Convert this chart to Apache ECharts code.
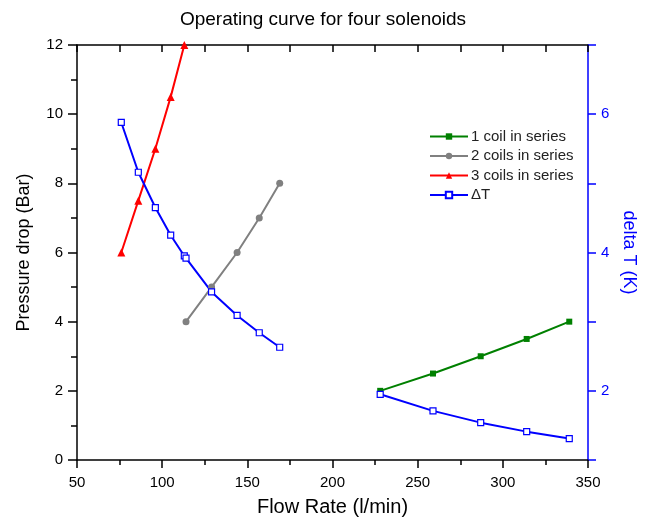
<!DOCTYPE html>
<html>
<head>
<meta charset="utf-8">
<script src="https://cdn.jsdelivr.net/npm/echarts@6/dist/echarts.min.js"></script>
<style>html,body{margin:0;padding:0;background:#fff;}#c{width:646px;height:521px;}</style>
</head>
<body>
<div id="c"></div>
<script>
// Data
const oneCoilFlow = [228, 259, 287, 314, 339];
const oneCoilDp   = [2.0, 2.5, 3.0, 3.5, 4.0];
const twoCoilFlow = [114, 129, 144, 157, 169];
const twoCoilDp   = [4.0, 5.0, 6.0, 7.0, 8.0];
const threeCoilFlow = [76, 86, 96, 105, 113];
const threeCoilDp   = [6.0, 7.5, 9.0, 10.5, 12.0];
const dtFlowA = [76, 86, 96, 105, 113, 114, 129, 144, 157, 169];
const dtA     = [5.88, 5.16, 4.65, 4.25, 3.95, 3.92, 3.43, 3.09, 2.84, 2.63];
const dtFlowB = [228, 259, 287, 314, 339];
const dtB     = [1.95, 1.71, 1.54, 1.41, 1.31];
const leftTicks = [0, 2, 4, 6, 8, 10, 12];
const rightTicks = [2, 4, 6];

const pairs = (xs, ys) => xs.map((x, i) => [x, ys[i]]);
const FONT = 'Liberation Sans, Arial, sans-serif';
const chart = echarts.init(document.getElementById('c'));
const blue = '#0000ff';

chart.setOption({
  animation: false,
  textStyle: { fontFamily: FONT },
  title: {
    text: 'Operating curve for four solenoids',
    left: 'center', top: 5,
    textStyle: { fontFamily: FONT, fontSize: 19, fontWeight: 'normal', color: '#000' }
  },
  legend: {
    left: 424, top: 124, orient: 'vertical',
    itemWidth: 38, itemHeight: 8, itemGap: 4.5,
    textStyle: { fontFamily: FONT, fontSize: 15, color: '#222', padding: [0, 0, 0, -2] },
    data: ['1 coil in series', '2 coils in series', '3 coils in series', 'ΔT']
  },
  grid: { left: 77, right: 58, top: 45, bottom: 61, containLabel: false, outerBoundsMode: 'none' },
  xAxis: [{
    type: 'value', min: 50, max: 350, interval: 50,
    name: 'Flow Rate (l/min)', nameLocation: 'middle', nameGap: 37,
    nameTextStyle: { fontFamily: FONT, fontSize: 20, color: '#000' },
    axisLine: { show: true, lineStyle: { color: '#000', width: 1.5 } },
    axisTick: { show: true, inside: false, length: 8, lineStyle: { color: '#000', width: 1.5 } },
    minorTick: { show: true, splitNumber: 2, length: 5, lineStyle: { color: '#000', width: 1.5 } },
    axisLabel: { fontFamily: FONT, fontSize: 15, color: '#000', margin: 15 },
    splitLine: { show: false }
  }, {
    type: 'value', min: 50, max: 350, interval: 50, position: 'top',
    axisLine: { show: true, lineStyle: { color: '#000', width: 1.5 } },
    axisTick: { show: true, inside: true, length: 7, lineStyle: { color: '#000', width: 1.5 } },
    minorTick: { show: true, splitNumber: 2, length: 7, lineStyle: { color: '#000', width: 1.5 } },
    axisLabel: { show: false },
    splitLine: { show: false }
  }],
  yAxis: [{
    type: 'value', min: 0, max: 12, interval: 2,
    name: 'Pressure drop (Bar)', nameLocation: 'middle', nameGap: 44,
    nameTextStyle: { fontFamily: FONT, fontSize: 18, color: '#000' },
    axisLine: { show: true, lineStyle: { color: '#000', width: 1.5 } },
    axisTick: { show: true, inside: false, length: 9, lineStyle: { color: '#000', width: 1.5 } },
    minorTick: { show: true, splitNumber: 2, length: 6, lineStyle: { color: '#000', width: 1.5 } },
    axisLabel: { fontFamily: FONT, fontSize: 15, color: '#000', margin: 14,
      formatter: v => leftTicks.includes(v) ? String(v) : '' },
    splitLine: { show: false }
  }, {
    type: 'value', min: 1, max: 7, interval: 1, position: 'right',
    name: 'delta T (K)', nameLocation: 'middle', nameGap: 32, nameRotate: -90,
    nameTextStyle: { fontFamily: FONT, fontSize: 18, color: blue },
    axisLine: { show: true, lineStyle: { color: blue, width: 1.5 } },
    axisTick: { show: true, inside: false, length: 8, lineStyle: { color: blue, width: 1.5 } },
    axisLabel: { fontFamily: FONT, fontSize: 15, color: blue, margin: 13,
      formatter: v => rightTicks.includes(v) ? String(v) : '' },
    splitLine: { show: false }
  }],
  series: [{
    name: '1 coil in series', type: 'line', xAxisIndex: 0, yAxisIndex: 0,
    data: pairs(oneCoilFlow, oneCoilDp),
    symbol: 'rect', symbolSize: 6,
    lineStyle: { color: '#008000', width: 2 },
    itemStyle: { color: '#008000' }
  }, {
    name: '2 coils in series', type: 'line', xAxisIndex: 0, yAxisIndex: 0,
    data: pairs(twoCoilFlow, twoCoilDp),
    symbol: 'circle', symbolSize: 7,
    lineStyle: { color: '#808080', width: 2 },
    itemStyle: { color: '#808080' }
  }, {
    name: '3 coils in series', type: 'line', xAxisIndex: 0, yAxisIndex: 0,
    data: pairs(threeCoilFlow, threeCoilDp),
    symbol: 'triangle', symbolSize: 8,
    lineStyle: { color: '#ff0000', width: 2 },
    itemStyle: { color: '#ff0000' }
  }, {
    name: 'ΔT', type: 'line', xAxisIndex: 0, yAxisIndex: 1,
    data: pairs(dtFlowA, dtA),
    symbol: 'rect', symbolSize: 6, z: 3,
    lineStyle: { color: blue, width: 2 },
    itemStyle: { color: '#fff', borderColor: blue, borderWidth: 1.2 }
  }, {
    name: 'ΔT', type: 'line', xAxisIndex: 0, yAxisIndex: 1,
    data: pairs(dtFlowB, dtB),
    symbol: 'rect', symbolSize: 6, z: 3,
    lineStyle: { color: blue, width: 2 },
    itemStyle: { color: '#fff', borderColor: blue, borderWidth: 1.2 }
  }]
});
</script>
</body>
</html>
